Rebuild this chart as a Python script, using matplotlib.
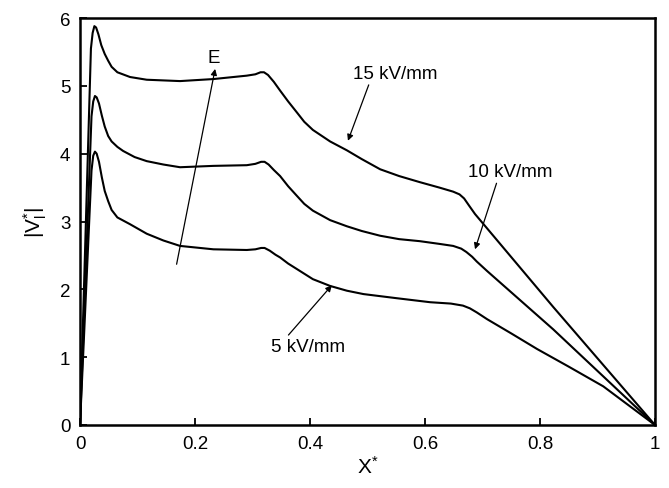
import numpy as np
import matplotlib
matplotlib.use('Agg')
import matplotlib.pyplot as plt
from matplotlib.ticker import FuncFormatter

plt.rcParams['font.family'] = ['Liberation Sans', 'DejaVu Sans']
plt.rcParams['mathtext.fontset'] = 'custom'
plt.rcParams['mathtext.rm'] = 'Liberation Sans'
plt.rcParams['mathtext.it'] = 'Liberation Sans'

# 15 kV/mm
x15 = [0.0, 0.019, 0.022, 0.025, 0.028, 0.032, 0.037, 0.043, 0.049, 0.055, 0.065, 0.087,
       0.116, 0.174, 0.232, 0.29, 0.305, 0.314, 0.32, 0.327, 0.337, 0.348, 0.362, 0.377,
       0.39, 0.405, 0.435, 0.464, 0.49, 0.522, 0.555, 0.591, 0.625, 0.649, 0.66,
       0.668, 0.677, 0.687, 0.823, 1.0]
y15 = [0.0, 5.55, 5.78, 5.88, 5.86, 5.76, 5.6, 5.47, 5.37, 5.28, 5.2, 5.13,
       5.09, 5.07, 5.1, 5.15, 5.17, 5.2, 5.2, 5.16, 5.06, 4.93, 4.77, 4.61,
       4.47, 4.35, 4.18, 4.05, 3.92, 3.77, 3.67, 3.58, 3.5, 3.44, 3.4,
       3.34, 3.23, 3.11, 1.74, 0.0]

# 10 kV/mm
x10 = [0.0, 0.02, 0.023, 0.026, 0.029, 0.033, 0.038, 0.043, 0.049, 0.055, 0.065, 0.075,
       0.095, 0.116, 0.145, 0.174, 0.232, 0.29, 0.305, 0.315, 0.321, 0.328, 0.337, 0.348,
       0.362, 0.377, 0.39, 0.405, 0.435, 0.464, 0.49, 0.522, 0.555, 0.591, 0.625,
       0.649, 0.663, 0.672, 0.682, 0.69, 0.708, 0.823, 1.0]
y10 = [0.0, 4.55, 4.77, 4.85, 4.83, 4.74, 4.56, 4.4, 4.26, 4.18, 4.1, 4.04,
       3.95, 3.89, 3.84, 3.8, 3.82, 3.83, 3.85, 3.88, 3.88, 3.84, 3.76, 3.67,
       3.52, 3.38, 3.26, 3.16, 3.02, 2.93, 2.86, 2.79, 2.74, 2.71, 2.67,
       2.64, 2.6, 2.55, 2.48, 2.41, 2.27, 1.41, 0.0]

# 5 kV/mm
x5 = [0.0, 0.02, 0.023, 0.026, 0.029, 0.033, 0.038, 0.043, 0.049, 0.055, 0.065, 0.087,
      0.116, 0.145, 0.174, 0.232, 0.29, 0.305, 0.315, 0.321, 0.33, 0.34, 0.348, 0.362,
      0.377, 0.405, 0.435, 0.464, 0.493, 0.55, 0.609, 0.645, 0.666, 0.678, 0.69,
      0.708, 0.75, 0.795, 0.85, 0.91, 1.0]
y5 = [0.0, 3.75, 3.97, 4.03, 4.0, 3.88, 3.65, 3.45, 3.3, 3.17, 3.06, 2.96,
      2.82, 2.72, 2.64, 2.59, 2.58, 2.59, 2.61, 2.61, 2.57, 2.51, 2.47, 2.38,
      2.3, 2.15, 2.05, 1.98, 1.93, 1.87, 1.81, 1.79, 1.76, 1.72, 1.66,
      1.56, 1.35, 1.12, 0.86, 0.57, 0.0]

xticks = [0, 0.2, 0.4, 0.6, 0.8, 1]
yticks = [0, 1, 2, 3, 4, 5, 6]


def plot():
    fig = plt.figure(figsize=(6.69, 4.89), dpi=100)
    ax = fig.add_axes([80 / 669, 1 - 426 / 489, 575 / 669, 407 / 489])

    for x, y in [(x15, y15), (x10, y10), (x5, y5)]:
        ax.plot(x, y, color='black', lw=1.5, solid_joinstyle='round')

    ax.set_xlim(0, 1)
    ax.set_ylim(0, 6)
    ax.set_xticks(xticks)
    ax.set_yticks(yticks)
    ax.xaxis.set_major_formatter(FuncFormatter(lambda v, p: '%g' % v))
    ax.tick_params(direction='in', length=5, width=1.3, labelsize=13.5,
                   top=False, right=False, pad=7)
    for s in ax.spines.values():
        s.set_linewidth(1.8)

    ax.set_xlabel(r'$\mathrm{X}^{*}$', fontsize=15, labelpad=2)
    ax.set_ylabel(r'$|\mathrm{V}_{\mathrm{l}}^{*}|$', fontsize=15, labelpad=8)

    arrow = dict(arrowstyle='-|>', color='black', lw=0.9, mutation_scale=9,
                 shrinkA=0, shrinkB=0)
    ax.annotate('', xy=(0.235, 5.25), xytext=(0.168, 2.37), arrowprops=arrow)
    ax.text(0.232, 5.42, 'E', fontsize=13.5, ha='center', va='center')

    ax.annotate('15 kV/mm', xy=(0.466, 4.19), xytext=(0.548, 5.18),
                fontsize=13.5, ha='center', va='center', arrowprops=dict(arrow, relpos=(0.2, 0)))
    ax.annotate('10 kV/mm', xy=(0.687, 2.59), xytext=(0.748, 3.73),
                fontsize=13.5, ha='center', va='center', arrowprops=dict(arrow, relpos=(0.35, 0)))
    ax.annotate('5 kV/mm', xy=(0.438, 2.06), xytext=(0.397, 1.16),
                fontsize=13.5, ha='center', va='center', arrowprops=dict(arrow, relpos=(0.2, 1)))

    plt.savefig('out.png', dpi=100)


if __name__ == '__main__':
    plot()
